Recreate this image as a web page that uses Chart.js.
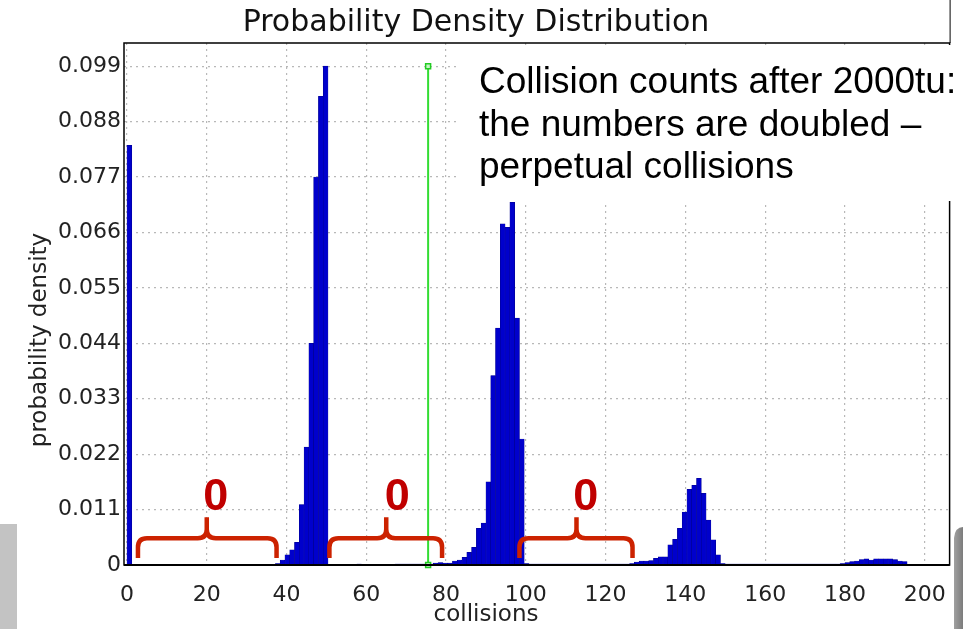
<!DOCTYPE html>
<html>
<head>
<meta charset="utf-8">
<title>Probability Density Distribution</title>
<script src="https://cdn.jsdelivr.net/npm/chart.js@4.4.0/dist/chart.umd.min.js"></script>
<style>
  html, body { margin: 0; padding: 0; background: #fff; }
  #wrap { position: relative; width: 963px; height: 629px; }
</style>
</head>
<body>
<div id="wrap"><canvas id="chart"></canvas></div>
<script>
// histogram bins, 1.2 collisions wide, starting at 0
const binWidth = 1.2;
const density = [
  0.0833, 0, 0, 0, 0, 0, 0, 0, 0, 0,
  0, 0, 0, 0, 0, 0, 0, 0, 0, 0,
  0, 0, 0, 0, 0, 0, 0, 0, 0, 0,
  0, 0.0003, 0.001, 0.002, 0.003, 0.0045, 0.012, 0.0234, 0.044, 0.077,
  0.093, 0.099, 0, 0, 0, 0, 0, 0, 0.0002, 0.0001,
  0.0001, 0.0001, 0.0001, 0.0001, 0.0001, 0.0001, 0.0002, 0.0002, 0.0002, 0.0002,
  0.0002, 0.0002, 0.0002, 0.0002, 0.0004, 0.0005, 0.0004, 0.0004, 0.0008, 0.001,
  0.0015, 0.0025, 0.0035, 0.0073, 0.0083, 0.0165, 0.0376, 0.047, 0.0677, 0.067,
  0.072, 0.049, 0.025, 0.0003, 0.0002, 0.0002, 0.0002, 0.0002, 0.0002, 0.0002,
  0.0002, 0.0002, 0.0002, 0.0002, 0.0002, 0.0002, 0.0002, 0.0002, 0.0002, 0.0002,
  0.0002, 0.0002, 0.0002, 0.0002, 0.0002, 0.0003, 0.0006, 0.0008, 0.0008, 0.0009,
  0.0013, 0.0016, 0.0016, 0.004, 0.0051, 0.0073, 0.0105, 0.015, 0.0158, 0.0172,
  0.0142, 0.0089, 0.005, 0.002, 0.0003, 0.0002, 0.0002, 0.0002, 0.0002, 0.0002,
  0.0002, 0.0002, 0.0002, 0.0002, 0.0002, 0.0002, 0.0002, 0.0002, 0.0002, 0.0002,
  0.0002, 0.0002, 0.0002, 0.0002, 0.0002, 0.0002, 0.0002, 0.0002, 0.0002, 0.0003,
  0.0005, 0.0007, 0.0008, 0.0011, 0.0012, 0.001, 0.0012, 0.0012, 0.0012, 0.0012,
  0.0011, 0.0008, 0.0007
];
const xTicks = [0, 20, 40, 60, 80, 100, 120, 140, 160, 180, 200];
const yTicks = [0, 0.011, 0.022, 0.033, 0.044, 0.055, 0.066, 0.077, 0.088, 0.099];

// green cursor line
const cursorX = 75.5;
const cursorTop = 0.099;

// red "0" braces over the empty stretches
const braceFrom = [2.75, 50.75, 98.4];
const braceTo = [37.5, 79, 126.75];
const braceTip = [20, 65, 112.7];
const braceLabelX = [22.25, 67.75, 115];
const braceLabels = ["0", "0", "0"];

const noteLines = [
  "Collision counts after 2000tu:",
  "the numbers are doubled \u2013",
  "perpetual collisions"
];

const bars = density.map((v, i) => ({ x: binWidth * (i + 0.5), y: v }));

const decor = {
  id: "decor",
  beforeDraw(chart) {
    const ctx = chart.ctx;
    ctx.save();
    ctx.fillStyle = "#fff";
    ctx.fillRect(0, 0, chart.width, chart.height);
    ctx.fillStyle = "#c3c3c3";
    ctx.fillRect(0, 524, 17, chart.height - 524);
    const g = ctx.createLinearGradient(954, 0, 963, 0);
    g.addColorStop(0, "#a0a0a0");
    g.addColorStop(1, "#7c7c7c");
    ctx.fillStyle = g;
    ctx.beginPath();
    ctx.moveTo(954, chart.height);
    ctx.lineTo(954, 538);
    ctx.quadraticCurveTo(955, 527, 963, 527);
    ctx.lineTo(963, chart.height);
    ctx.closePath();
    ctx.fill();
    ctx.restore();
  },
  afterDatasetsDraw(chart) {
    const ctx = chart.ctx;
    const a = chart.chartArea;
    const xs = chart.scales.x;
    const ys = chart.scales.y;
    ctx.save();

    // plot frame
    ctx.strokeStyle = "#000";
    ctx.lineWidth = 1.5;
    ctx.strokeRect(a.left, a.top, a.right - a.left, a.bottom - a.top);
    ctx.lineWidth = 2;
    ctx.beginPath();
    ctx.moveTo(a.left, a.bottom);
    ctx.lineTo(a.right, a.bottom);
    ctx.stroke();
    ctx.lineWidth = 1;
    ctx.beginPath();
    ctx.moveTo(a.right + 0.5, 0);
    ctx.lineTo(a.right + 0.5, a.top);
    ctx.stroke();

    // braces
    const yLine = ys.getPixelForValue(0.0053);
    const yEnd = ys.getPixelForValue(0.0014);
    const yTip = ys.getPixelForValue(0.0095);
    const r = 9;
    ctx.strokeStyle = "#cc2200";
    ctx.lineWidth = 4.5;
    ctx.lineJoin = "round";
    for (let i = 0; i < braceFrom.length; i++) {
      const x0 = xs.getPixelForValue(braceFrom[i]);
      const x1 = xs.getPixelForValue(braceTo[i]);
      const xt = xs.getPixelForValue(braceTip[i]);
      ctx.beginPath();
      ctx.moveTo(x0, yEnd);
      ctx.lineTo(x0, yLine + r);
      ctx.quadraticCurveTo(x0, yLine, x0 + r, yLine);
      ctx.lineTo(xt - r, yLine);
      ctx.quadraticCurveTo(xt, yLine, xt, yLine - r);
      ctx.lineTo(xt, yTip);
      ctx.moveTo(xt, yLine - r);
      ctx.quadraticCurveTo(xt, yLine, xt + r, yLine);
      ctx.lineTo(x1 - r, yLine);
      ctx.quadraticCurveTo(x1, yLine, x1, yLine + r);
      ctx.lineTo(x1, yEnd);
      ctx.stroke();
    }
    ctx.fillStyle = "#c00000";
    ctx.font = "bold 45px 'Liberation Sans', Arial, sans-serif";
    ctx.textAlign = "center";
    ctx.textBaseline = "alphabetic";
    const yLabel = ys.getPixelForValue(0.0109);
    for (let i = 0; i < braceLabels.length; i++) {
      ctx.fillText(braceLabels[i], xs.getPixelForValue(braceLabelX[i]), yLabel);
    }

    // note box
    ctx.fillStyle = "#fff";
    ctx.fillRect(458, a.top + 2, chart.width - 458, 201 - a.top - 2);
    ctx.fillStyle = "#000";
    ctx.font = "37px 'Liberation Sans', Arial, sans-serif";
    ctx.textAlign = "left";
    noteLines.forEach((t, i) => ctx.fillText(t, 479, 93 + i * 42.5));

    // axis titles
    ctx.fillStyle = "#222";
    ctx.font = "23px 'DejaVu Sans', sans-serif";
    ctx.textAlign = "center";
    ctx.textBaseline = "middle";
    ctx.fillText("collisions", 486, 615);
    ctx.translate(40, 340);
    ctx.rotate(-Math.PI / 2);
    ctx.fillText("probability density", 0, 0);
    ctx.restore();
  }
};

new Chart(document.getElementById("chart"), {
  type: "bar",
  data: {
    datasets: [
      {
        type: "bar",
        data: bars,
        backgroundColor: "#0000cc",
        borderColor: "#00008a",
        borderWidth: 0.5,
        barPercentage: 1,
        categoryPercentage: 1,
        order: 2
      },
      {
        type: "line",
        data: [{ x: cursorX, y: 0 }, { x: cursorX, y: cursorTop }],
        borderColor: "#33dd33",
        borderWidth: 2,
        pointStyle: "rect",
        pointRadius: 3.5,
        pointBackgroundColor: "#c8f5c8",
        pointBorderColor: "#22cc22",
        pointBorderWidth: 1.5,
        clip: false,
        order: 1
      }
    ]
  },
  options: {
    responsive: true,
    maintainAspectRatio: false,
    animation: false,
    layout: { padding: { left: 0, right: 11, top: 0, bottom: 0 } },
    plugins: {
      legend: { display: false },
      tooltip: { enabled: false },
      title: {
        display: true,
        text: "Probability Density Distribution",
        color: "#111",
        font: { family: "'DejaVu Sans', sans-serif", size: 30, weight: "normal" },
        padding: { top: 5, bottom: 2 }
      }
    },
    scales: {
      x: {
        type: "linear",
        min: -0.75,
        max: 206.25,
        offset: false,
        afterBuildTicks: (s) => { s.ticks = xTicks.map(v => ({ value: v })); },
        afterFit: (s) => { s.height = 64; },
        grid: { offset: false, color: "#b8b8b8", lineWidth: 1.2, drawTicks: false },
        border: { display: false, dash: [2, 4] },
        ticks: {
          padding: 17,
          color: "#222",
          maxRotation: 0,
          font: { family: "'DejaVu Sans', sans-serif", size: 22 }
        }
      },
      y: {
        min: 0,
        max: 0.1036,
        afterBuildTicks: (s) => { s.ticks = yTicks.map(v => ({ value: v })); },
        afterFit: (s) => { s.width = 124; },
        grid: { color: "#b8b8b8", lineWidth: 1.2, drawTicks: false },
        border: { display: false, dash: [2, 4] },
        ticks: {
          padding: 3,
          color: "#222",
          font: { family: "'DejaVu Sans', sans-serif", size: 22 },
          callback: (v) => (v === 0 ? "0" : v.toFixed(3))
        }
      }
    }
  },
  plugins: [decor]
});
</script>
</body>
</html>
